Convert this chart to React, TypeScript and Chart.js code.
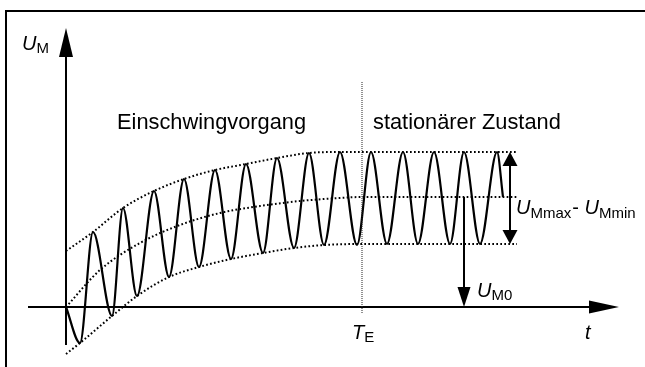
import { useEffect, useRef } from "react";
import { Chart, registerables } from "chart.js";

Chart.register(...registerables);

// Measured signal U_M(t): start, alternating troughs and crests, end point
const signalT = [0, 1.4, 2.7, 4.6, 5.7, 7.1, 8.8, 10.3, 11.8, 13.3, 14.9, 16.5, 18.0, 19.7, 21.1, 22.8, 24.3, 25.8, 27.4, 29.1, 30.5, 32.1, 33.7, 35.2, 36.8, 38.4, 39.8, 41.4, 43.1, 43.7];
const signalU = [0, -3.6, 7.5, -0.9, 9.9, 1.1, 11.6, 3.0, 12.8, 4.0, 13.7, 4.8, 14.3, 5.4, 14.9, 5.9, 15.4, 6.2, 15.5, 6.2, 15.5, 6.3, 15.5, 6.3, 15.5, 6.3, 15.5, 6.3, 15.5, 11.0];

// Upper envelope (U_Mmax)
const upperT = [0, 2.7, 5.7, 8.8, 11.8, 14.9, 18.0, 21.1, 24.3, 27.4, 29.6, 45.1];
const upperU = [5.6, 7.5, 9.9, 11.6, 12.8, 13.7, 14.3, 14.9, 15.4, 15.5, 15.5, 15.5];

// Mean value (U_M0)
const meanT = [0, 3.4, 7.4, 11.4, 15.4, 19.4, 23.4, 27.4, 29.6, 45.1];
const meanU = [0, 3.7, 6.4, 8.2, 9.4, 10.1, 10.6, 10.9, 11.0, 11.0];

// Lower envelope (U_Mmin)
const lowerT = [0, 1.4, 4.6, 7.1, 10.3, 13.3, 16.5, 19.7, 22.8, 25.8, 29.6, 45.1];
const lowerU = [-4.7, -3.6, -0.9, 1.1, 3.0, 4.0, 4.8, 5.4, 5.9, 6.2, 6.3, 6.3];

// Characteristic values
const T_E = 29.6;
const U_M0 = 11.0;
const U_MMAX = 15.5;
const U_MMIN = 6.3;

// Axis ranges
const T_MIN = -6.6;
const T_MAX = 57.9;
const U_LOW = -6.0;
const U_HIGH = 30.7;
const T_AXIS_START = -3.8;
const T_AXIS_END = 55.3;
const U_AXIS_START = -3.8;
const U_AXIS_END = 27.9;
const TE_LINE = [-0.6, 22.6];
const RANGE_ARROW_T = 44.4;
const M0_ARROW_T = 39.8;

const pts = (ts: number[], us: number[]) => ts.map((t, i) => ({ x: t, y: us[i] }));

const SANS = "'Liberation Sans', Arial, sans-serif";

function arrowHead(ctx: CanvasRenderingContext2D, tipX: number, tipY: number, dx: number, dy: number, len: number, width: number) {
  const bx = tipX - dx * len;
  const by = tipY - dy * len;
  const nx = -dy;
  const ny = dx;
  ctx.beginPath();
  ctx.moveTo(tipX, tipY);
  ctx.lineTo(bx + (nx * width) / 2, by + (ny * width) / 2);
  ctx.lineTo(bx - (nx * width) / 2, by - (ny * width) / 2);
  ctx.closePath();
  ctx.fill();
}

function subText(ctx: CanvasRenderingContext2D, main: string, sub: string, left: number, base: number, mainFont: string, subFont: string, drop: number) {
  ctx.font = mainFont;
  ctx.fillText(main, left, base);
  const w = ctx.measureText(main).width;
  ctx.font = subFont;
  ctx.fillText(sub, left + w, base + drop);
  return left + w + ctx.measureText(sub).width;
}

const diagramPlugin = {
  id: "diagram",
  beforeDatasetsDraw(chart: any) {
    const { ctx } = chart;
    const xs = chart.scales.x;
    const ys = chart.scales.y;
    ctx.save();
    ctx.fillStyle = "#fff";
    ctx.fillRect(0, 0, chart.width, chart.height);
    ctx.fillStyle = "#000";
    // frame
    ctx.fillRect(5, 10, chart.width - 5, 2);
    ctx.fillRect(5, 10, 2, chart.height - 10);

    ctx.strokeStyle = "#000";
    ctx.lineWidth = 2;
    const x0 = xs.getPixelForValue(0);
    const y0 = ys.getPixelForValue(0);
    // time axis
    const xEnd = xs.getPixelForValue(T_AXIS_END);
    ctx.beginPath();
    ctx.moveTo(xs.getPixelForValue(T_AXIS_START), y0);
    ctx.lineTo(xEnd - 28, y0);
    ctx.stroke();
    arrowHead(ctx, xEnd, y0, 1, 0, 30, 13);
    // U axis
    const yEnd = ys.getPixelForValue(U_AXIS_END);
    ctx.beginPath();
    ctx.moveTo(x0, ys.getPixelForValue(U_AXIS_START));
    ctx.lineTo(x0, yEnd + 27);
    ctx.stroke();
    arrowHead(ctx, x0, yEnd, 0, -1, 29, 14);
    ctx.restore();
  },
  afterDatasetsDraw(chart: any) {
    const { ctx } = chart;
    const xs = chart.scales.x;
    const ys = chart.scales.y;
    ctx.save();
    ctx.fillStyle = "#000";
    ctx.strokeStyle = "#000";

    // U_Mmax - U_Mmin range arrow
    const ra = xs.getPixelForValue(RANGE_ARROW_T);
    const yTop = ys.getPixelForValue(U_MMAX);
    const yBot = ys.getPixelForValue(U_MMIN);
    ctx.lineWidth = 2;
    ctx.beginPath();
    ctx.moveTo(ra, yTop + 12);
    ctx.lineTo(ra, yBot - 12);
    ctx.stroke();
    arrowHead(ctx, ra, yTop, 0, -1, 14, 15);
    arrowHead(ctx, ra, yBot, 0, 1, 14, 15);

    // U_M0 arrow
    const ma = xs.getPixelForValue(M0_ARROW_T);
    const yM0 = ys.getPixelForValue(U_M0);
    const yZero = ys.getPixelForValue(0);
    ctx.beginPath();
    ctx.moveTo(ma, yM0);
    ctx.lineTo(ma, yZero - 18);
    ctx.stroke();
    arrowHead(ctx, ma, yZero, 0, 1, 20, 13);

    // labels
    ctx.textBaseline = "alphabetic";
    ctx.textAlign = "left";
    const italic = `italic 20px ${SANS}`;
    const sub = `15px ${SANS}`;
    const x0 = xs.getPixelForValue(0);
    const te = xs.getPixelForValue(T_E);

    ctx.font = `21.8px ${SANS}`;
    ctx.fillText("Einschwingvorgang", x0 + 51, 129);
    ctx.fillText("stationärer Zustand", te + 11, 129);

    subText(ctx, "U", "M", x0 - 44, 50, italic, sub, 3);
    subText(ctx, "T", "E", te - 10, 339, italic, sub, 3);
    ctx.font = italic;
    ctx.fillText("t", xs.getPixelForValue(T_AXIS_END) - 34, 339);
    subText(ctx, "U", "M0", ma + 13, 297, italic, sub, 3);

    let px = subText(ctx, "U", "Mmax", ra + 6, 214, italic, sub, 4);
    ctx.font = `20px ${SANS}`;
    ctx.fillText("- ", px + 1, 214);
    px += 1 + ctx.measureText("- ").width;
    subText(ctx, "U", "Mmin", px, 214, italic, sub, 4);
    ctx.restore();
  },
};

export default function App() {
  const canvasRef = useRef<HTMLCanvasElement | null>(null);

  useEffect(() => {
    document.body.style.margin = "0";
    const canvas = canvasRef.current;
    if (!canvas) return;

    const dotted = {
      showLine: true,
      borderColor: "#000",
      borderWidth: 2,
      borderDash: [1.7, 2.3],
      pointRadius: 0,
      fill: false,
      cubicInterpolationMode: "monotone" as const,
    };

    const chart = new Chart(canvas, {
      type: "scatter",
      data: {
        datasets: [
          { ...dotted, label: "U_Mmax", data: pts(upperT, upperU) },
          { ...dotted, label: "U_M0", data: pts(meanT, meanU) },
          { ...dotted, label: "U_Mmin", data: pts(lowerT, lowerU) },
          {
            label: "T_E",
            data: [
              { x: T_E, y: TE_LINE[0] },
              { x: T_E, y: TE_LINE[1] },
            ],
            showLine: true,
            borderColor: "#222",
            borderWidth: 1,
            borderDash: [1, 1],
            pointRadius: 0,
          },
          {
            label: "U_M",
            data: pts(signalT, signalU),
            showLine: true,
            borderColor: "#000",
            borderWidth: 2.2,
            pointRadius: 0,
            fill: false,
            cubicInterpolationMode: "monotone",
          },
        ],
      },
      options: {
        animation: false,
        responsive: false,
        events: [],
        layout: { padding: 0 },
        plugins: { legend: { display: false }, tooltip: { enabled: false } },
        scales: {
          x: { type: "linear", min: T_MIN, max: T_MAX, display: false },
          y: { type: "linear", min: U_LOW, max: U_HIGH, display: false },
        },
      },
      plugins: [diagramPlugin],
    });

    return () => chart.destroy();
  }, []);

  return <canvas ref={canvasRef} width={645} height={367} style={{ display: "block" }} />;
}
